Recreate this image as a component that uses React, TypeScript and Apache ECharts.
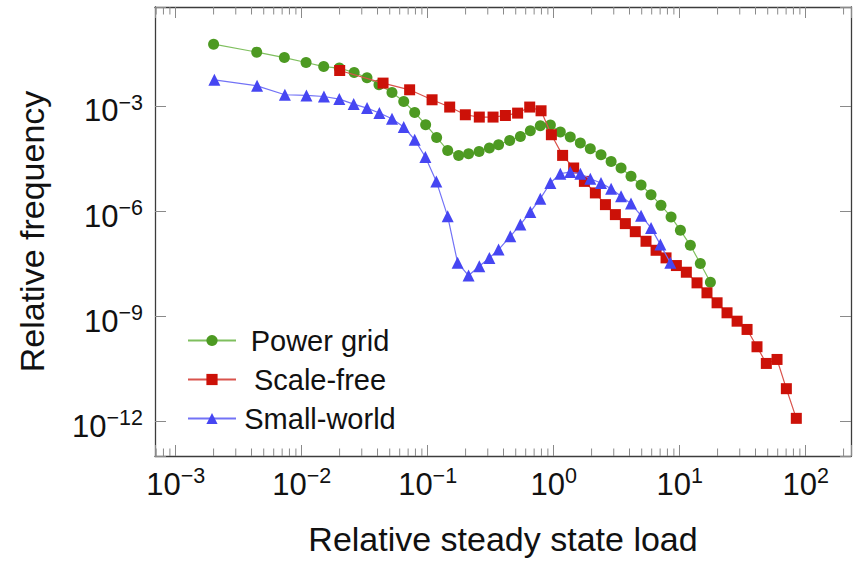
import React, { useEffect, useRef } from 'react';
import * as echarts from 'echarts';

// ---- Data ----
const powerGridLoad = [
  0.002, 0.0044, 0.00729, 0.01084, 0.01496, 0.0199, 0.0261, 0.033, 0.0411, 0.0521,
  0.0646, 0.0789, 0.0964, 0.1178, 0.1442, 0.1762, 0.2113, 0.2559, 0.309, 0.3656,
  0.4477, 0.5445, 0.6531, 0.7834, 0.9419, 1.13, 1.355, 1.629, 1.954, 2.377,
  2.858, 3.428, 4.111, 4.943, 5.929, 7.112, 8.551, 10.14, 12.16, 14.59, 17.54,
];
const powerGridFreq = [
  0.0601, 0.0356, 0.0249, 0.018, 0.0138, 0.01245, 0.00933, 0.00658, 0.00416, 0.00251,
  0.00139, 6.75e-4, 3.01e-4, 1.306e-4, 5.56e-5, 4.01e-5, 4.48e-5, 5.21e-5, 6.52e-5, 8.09e-5,
  1.072e-4, 1.396e-4, 2.03e-4, 2.82e-4, 2.95e-4, 1.862e-4, 1.34e-4, 9.04e-5, 6.22e-5, 4.2e-5,
  2.7e-5, 1.75e-5, 1.01e-5, 5.74e-6, 3.03e-6, 1.5e-6, 7.02e-7, 2.91e-7, 1.086e-7, 3.27e-8, 9.57e-9,
];

const scaleFreeLoad = [
  0.02004, 0.04426, 0.07194, 0.1084, 0.1496, 0.1991, 0.257, 0.3304, 0.414, 0.5176,
  0.6457, 0.7943, 0.9594, 1.178, 1.442, 1.754, 2.143, 2.576, 3.09, 3.707,
  4.446, 5.408, 6.501, 7.798, 9.419, 11.3, 13.74, 16.48, 19.82, 23.77,
  28.58, 34.28, 41.11, 48.75, 59.29, 70.31, 84.33,
];
const scaleFreeFreq = [
  0.01064, 0.004645, 0.002992, 0.001552, 9.62e-4, 5.79e-4, 4.98e-4, 4.98e-4, 5.53e-4, 6.46e-4,
  9.62e-4, 7.53e-4, 1.56e-4, 4.01e-5, 1.75e-5, 7.26e-6, 3.4e-6, 1.574e-6, 8.17e-7, 4.52e-7,
  2.66e-7, 1.416e-7, 7.83e-8, 4.75e-8, 2.87e-8, 1.85e-8, 9.2e-9, 4.78e-9, 2.48e-9, 1.285e-9,
  7.4e-10, 4.3e-10, 1.377e-10, 4.6e-11, 5.98e-11, 8.75e-12, 1.245e-12,
];

const smallWorldLoad = [
  0.002028, 0.004426, 0.007362, 0.01091, 0.01503, 0.01991, 0.02588, 0.03304, 0.0414, 0.05212,
  0.06457, 0.07889, 0.09594, 0.1172, 0.1442, 0.173, 0.2113, 0.257, 0.309, 0.3656,
  0.4529, 0.5445, 0.6531, 0.7834, 0.9419, 1.13, 1.355, 1.629, 1.954, 2.377,
  2.858, 3.428, 4.111, 4.943, 5.929, 7.031, 8.433,
];
const smallWorldFreq = [
  0.005768, 0.00389, 0.002158, 0.002061, 0.001928, 0.001626, 0.001169, 8.99e-4, 6.49e-4, 4.46e-4,
  2.59e-4, 1.122e-4, 3.61e-5, 7.26e-6, 7.29e-7, 3.43e-8, 1.486e-8, 2.74e-8, 4.75e-8, 8.2e-8,
  1.963e-7, 4.24e-7, 9.75e-7, 2.33e-6, 6.55e-6, 1.205e-5, 1.346e-5, 1.205e-5, 8.67e-6, 6.55e-6,
  4.5e-6, 2.72e-6, 1.683e-6, 7.64e-7, 3.41e-7, 1.138e-7, 3.43e-8,
];

const seriesNames = ['Power grid', 'Scale-free', 'Small-world'];

// axis extents (log10 exponents)
const X_MIN = -3.164;
const X_MAX = 2.36;
const Y_MIN = -12.98;
const Y_MAX = -0.16;

// minor (log) tick multipliers and decades for the x axis
const minorMultipliers = [2, 3, 4, 5, 6, 7, 8, 9];
const xDecades = [-4, -3, -2, -1, 0, 1, 2];

const FONT = '"Liberation Sans", Arial, Helvetica, sans-serif';
const TEXT = '#111';
const FRAME = '#3c3c3c';
const TICK = '#8a8a8a';

const toLogPairs = (xs: number[], ys: number[]) =>
  xs.map((x, i) => [Math.log10(x), Math.log10(ys[i])]);

const expLabel = (v: number) => {
  const r = Math.round(v);
  if (Math.abs(v - r) > 1e-6) return '';
  const e = r < 0 ? '\u2212' + String(-r) : String(r);
  return `{b|10}{s|${e}}`;
};

const labelRich = {
  b: { fontSize: 31, lineHeight: 38, fontFamily: FONT, color: TEXT },
  s: { fontSize: 21.5, lineHeight: 19, verticalAlign: 'top', fontFamily: FONT, color: TEXT },
};

const axisLineStyle = { show: true, onZero: false, lineStyle: { color: FRAME, width: 1.3 } };
const axisTickStyle = { show: true, inside: true, length: 11, lineStyle: { color: TICK, width: 1 } };

export default function App() {
  const ref = useRef<HTMLDivElement>(null);

  useEffect(() => {
    if (!ref.current) return;
    const chart = echarts.init(ref.current, null, { renderer: 'svg' });

    const minorTickValues = xDecades
      .flatMap((d) => minorMultipliers.map((m) => d + Math.log10(m)))
      .filter((v) => v > X_MIN && v < X_MAX);

    const option: any = {
      animation: false,
      backgroundColor: '#ffffff',
      grid: { left: 155, right: 11, top: 7, bottom: 104, containLabel: false },
      xAxis: [
        {
          type: 'value',
          position: 'bottom',
          min: X_MIN,
          max: X_MAX,
          splitNumber: 5,
          axisLine: axisLineStyle,
          axisTick: axisTickStyle,
          splitLine: { show: false },
          axisLabel: { formatter: expLabel, rich: labelRich, margin: 9 },
          name: 'Relative steady state load',
          nameLocation: 'middle',
          nameGap: 66,
          nameTextStyle: { fontSize: 34, fontFamily: FONT, color: TEXT },
        },
        {
          type: 'value',
          position: 'top',
          min: X_MIN,
          max: X_MAX,
          splitNumber: 5,
          axisLine: axisLineStyle,
          axisTick: axisTickStyle,
          splitLine: { show: false },
          axisLabel: { show: false },
        },
      ],
      yAxis: [
        {
          type: 'value',
          position: 'left',
          min: Y_MIN,
          max: Y_MAX,
          splitNumber: 5,
          axisLine: axisLineStyle,
          axisTick: axisTickStyle,
          splitLine: { show: false },
          axisLabel: { formatter: expLabel, rich: labelRich, margin: 12, padding: [9, 0, 0, 0] },
          name: 'Relative frequency',
          nameLocation: 'middle',
          nameGap: 106,
          nameRotate: 90,
          nameTextStyle: { fontSize: 34, fontFamily: FONT, color: TEXT },
        },
        {
          type: 'value',
          position: 'right',
          min: Y_MIN,
          max: Y_MAX,
          splitNumber: 5,
          axisLine: axisLineStyle,
          axisTick: axisTickStyle,
          splitLine: { show: false },
          axisLabel: { show: false },
        },
      ],
      legend: {
        orient: 'vertical',
        left: 187,
        top: 326,
        padding: 0,
        itemWidth: 48,
        itemHeight: 14,
        itemGap: 10,
        selectedMode: false,
        data: seriesNames,
        formatter: (n: string) => `{t|${n}}`,
        textStyle: {
          rich: {
            t: { width: 158, align: 'center', fontSize: 29, lineHeight: 30, fontFamily: FONT, color: TEXT },
          },
        },
      },
      series: [
        {
          type: 'custom',
          name: 'minor ticks',
          silent: true,
          z: 1,
          xAxisIndex: 0,
          yAxisIndex: 0,
          clip: false,
          data: minorTickValues.map((v) => [v, Y_MIN]),
          encode: { x: 0, y: 1 },
          renderItem: (_params: any, api: any) => {
            const b = api.coord([api.value(0), Y_MIN]);
            const t = api.coord([api.value(0), Y_MAX]);
            return {
              type: 'group',
              children: [
                { type: 'line', shape: { x1: b[0], y1: b[1], x2: b[0], y2: b[1] - 7.5 }, style: { stroke: TICK, lineWidth: 1 } },
                { type: 'line', shape: { x1: t[0], y1: t[1], x2: t[0], y2: t[1] + 7.5 }, style: { stroke: TICK, lineWidth: 1 } },
              ],
            };
          },
        },
        {
          name: seriesNames[0],
          type: 'line',
          data: toLogPairs(powerGridLoad, powerGridFreq),
          symbol: 'circle',
          symbolSize: 11,
          z: 3,
          lineStyle: { color: '#7fbf5e', width: 1.2 },
          itemStyle: { color: '#4d9a22' },
        },
        {
          name: seriesNames[1],
          type: 'line',
          data: toLogPairs(scaleFreeLoad, scaleFreeFreq),
          symbol: 'rect',
          symbolSize: 11,
          z: 4,
          lineStyle: { color: '#d9534c', width: 1.2 },
          itemStyle: { color: '#cc1108' },
        },
        {
          name: seriesNames[2],
          type: 'line',
          data: toLogPairs(smallWorldLoad, smallWorldFreq),
          symbol: 'triangle',
          symbolSize: 12,
          z: 5,
          lineStyle: { color: '#7272f6', width: 1.2 },
          itemStyle: { color: '#4646f2' },
        },
      ],
    };

    chart.setOption(option);
    return () => chart.dispose();
  }, []);

  return (
    <div
      ref={ref}
      style={{ position: 'fixed', left: 0, top: 0, width: 862, height: 561, background: '#fff' }}
    />
  );
}
